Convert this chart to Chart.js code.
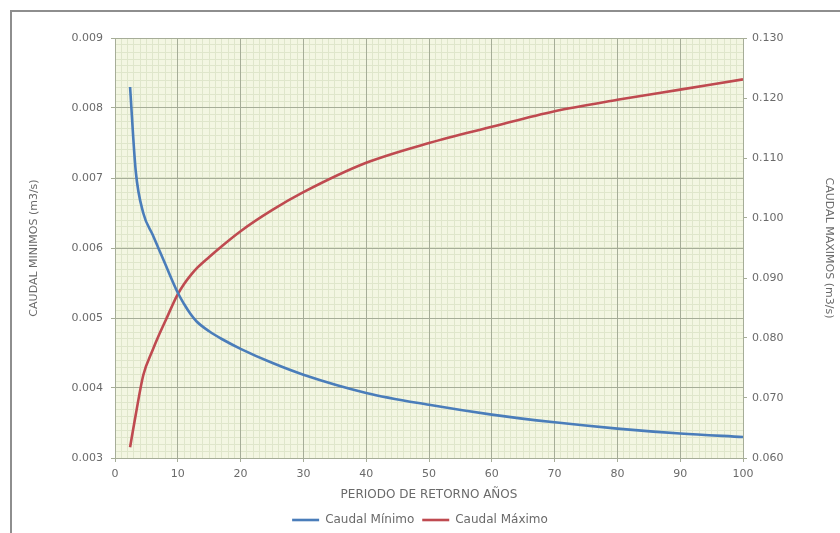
<!DOCTYPE html>
<html>
<head>
<meta charset="utf-8">
<script src="https://cdn.jsdelivr.net/npm/chart.js@4/dist/chart.umd.min.js"></script>
<style>
  html, body { margin: 0; padding: 0; background: #ffffff; }
  #frame { position: absolute; left: 10px; top: 10px; width: 840px; height: 540px;
           border-left: 2px solid #8e8e8e; border-top: 2px solid #8e8e8e; }
  #wrap { position: absolute; left: 0; top: 0; width: 840px; height: 533px; }
</style>
</head>
<body>
<div id="frame"></div>
<div id="wrap"><canvas id="c" width="840" height="533"></canvas></div>
<script>
// Periodo de retorno (años)
const periodos = [2.4, 3.3, 4.5, 6, 7, 8, 10, 11, 12, 13, 15, 17, 20, 25, 30, 40, 50, 60, 70, 80, 90, 100];
// Caudal mínimo (m3/s), eje izquierdo
const caudalMinimo = [0.0083, 0.0071, 0.0065, 0.00619, 0.00598, 0.00577, 0.00536, 0.0052, 0.00506, 0.00495,
                      0.00481, 0.00470, 0.00456, 0.00436, 0.00419, 0.00393, 0.00376, 0.00362, 0.00351,
                      0.00342, 0.00335, 0.00330];
// Caudal máximo (m3/s), eje derecho
const caudalMaximo = [0.0618, 0.0672, 0.0738, 0.0780, 0.0805, 0.0828, 0.0873, 0.0890, 0.0904, 0.0916,
                      0.0935, 0.0953, 0.0978, 0.1013, 0.1043, 0.1092, 0.1125, 0.1152, 0.1178,
                      0.1197, 0.1214, 0.1231];

const FONT = "'DejaVu Sans', sans-serif";
const TXT = '#6a6a6a';
const MAJOR = '#a6ad98';
const MINOR = '#dfe6cb';

const plotBackground = {
  id: 'plotBackground',
  beforeDraw(chart) {
    const { ctx, chartArea: a } = chart;
    ctx.save();
    ctx.fillStyle = '#f3f6e2';
    ctx.fillRect(a.left, a.top, a.right - a.left, a.bottom - a.top);
    ctx.restore();
  }
};

const legendHeight = {
  id: 'legendHeight',
  beforeInit(chart) {
    const fit = chart.legend.fit;
    chart.legend.fit = function () { fit.bind(chart.legend)(); this.height = 27; };
  }
};

const toPts = (vals) => periodos.map((t, i) => ({ x: t, y: vals[i] }));

new Chart(document.getElementById('c'), {
  type: 'line',
  data: {
    datasets: [
      { label: 'Caudal Mínimo', data: toPts(caudalMinimo), yAxisID: 'y', xAxisID: 'x',
        borderColor: '#4a7dba', backgroundColor: '#4a7dba', borderWidth: 2.6,
        pointRadius: 0, pointStyle: 'line', cubicInterpolationMode: 'monotone' },
      { label: 'Caudal Máximo', data: toPts(caudalMaximo), yAxisID: 'y2', xAxisID: 'x',
        borderColor: '#bf4a50', backgroundColor: '#bf4a50', borderWidth: 2.6,
        pointRadius: 0, pointStyle: 'line', cubicInterpolationMode: 'monotone' }
    ]
  },
  options: {
    responsive: false,
    animation: false,
    layout: { padding: { top: 38, left: 0, right: 0, bottom: 0 } },
    plugins: {
      legend: {
        position: 'bottom',
        labels: { usePointStyle: true, pointStyleWidth: 27, padding: 8,
                  font: { family: FONT, size: 12 }, color: TXT }
      },
      tooltip: { enabled: false }
    },
    scales: {
      x: {
        type: 'linear', position: 'bottom', min: 0, max: 100,
        afterFit: (s) => { s.height = 48; },
        ticks: { stepSize: 10, font: { family: FONT, size: 11 }, color: TXT, padding: 6 },
        grid: { color: MAJOR, tickLength: 4 },
        border: { color: MAJOR },
        title: { display: true, text: 'PERIODO DE RETORNO AÑOS', color: TXT,
                 font: { family: FONT, size: 12 }, padding: { top: 0, bottom: 4 } }
      },
      xMinor: {
        type: 'linear', position: 'bottom', min: 0, max: 100,
        ticks: { display: false, stepSize: 1 },
        grid: { color: MINOR, drawTicks: false, z: -2 },
        border: { display: false }
      },
      y: {
        type: 'linear', position: 'left', min: 0.003, max: 0.009,
        afterFit: (s) => { s.width = 115; },
        ticks: { stepSize: 0.001, font: { family: FONT, size: 11 }, color: TXT, padding: 8,
                 callback: (v) => v.toFixed(3) },
        grid: { color: MAJOR, tickLength: 4 },
        border: { color: MAJOR },
        title: { display: true, text: 'CAUDAL MINIMOS (m3/s)', color: TXT,
                 font: { family: FONT, size: 11 }, padding: { top: 28, bottom: 0 } }
      },
      yMinor: {
        type: 'linear', position: 'left', min: 0.003, max: 0.009,
        ticks: { display: false, stepSize: 0.0001 },
        grid: { color: MINOR, drawTicks: false, z: -2 },
        border: { display: false }
      },
      y2: {
        type: 'linear', position: 'right', min: 0.06, max: 0.13,
        afterFit: (s) => { s.width = 97; },
        ticks: { stepSize: 0.01, font: { family: FONT, size: 11 }, color: TXT, padding: 5,
                 callback: (v) => v.toFixed(3) },
        grid: { drawOnChartArea: false, color: MAJOR, tickLength: 4 },
        border: { color: MAJOR },
        title: { display: true, text: 'CAUDAL MAXIMOS (m3/s)', color: TXT,
                 font: { family: FONT, size: 11 }, padding: { top: 5, bottom: 0 } }
      }
    }
  },
  plugins: [plotBackground, legendHeight]
});
</script>
</body>
</html>
